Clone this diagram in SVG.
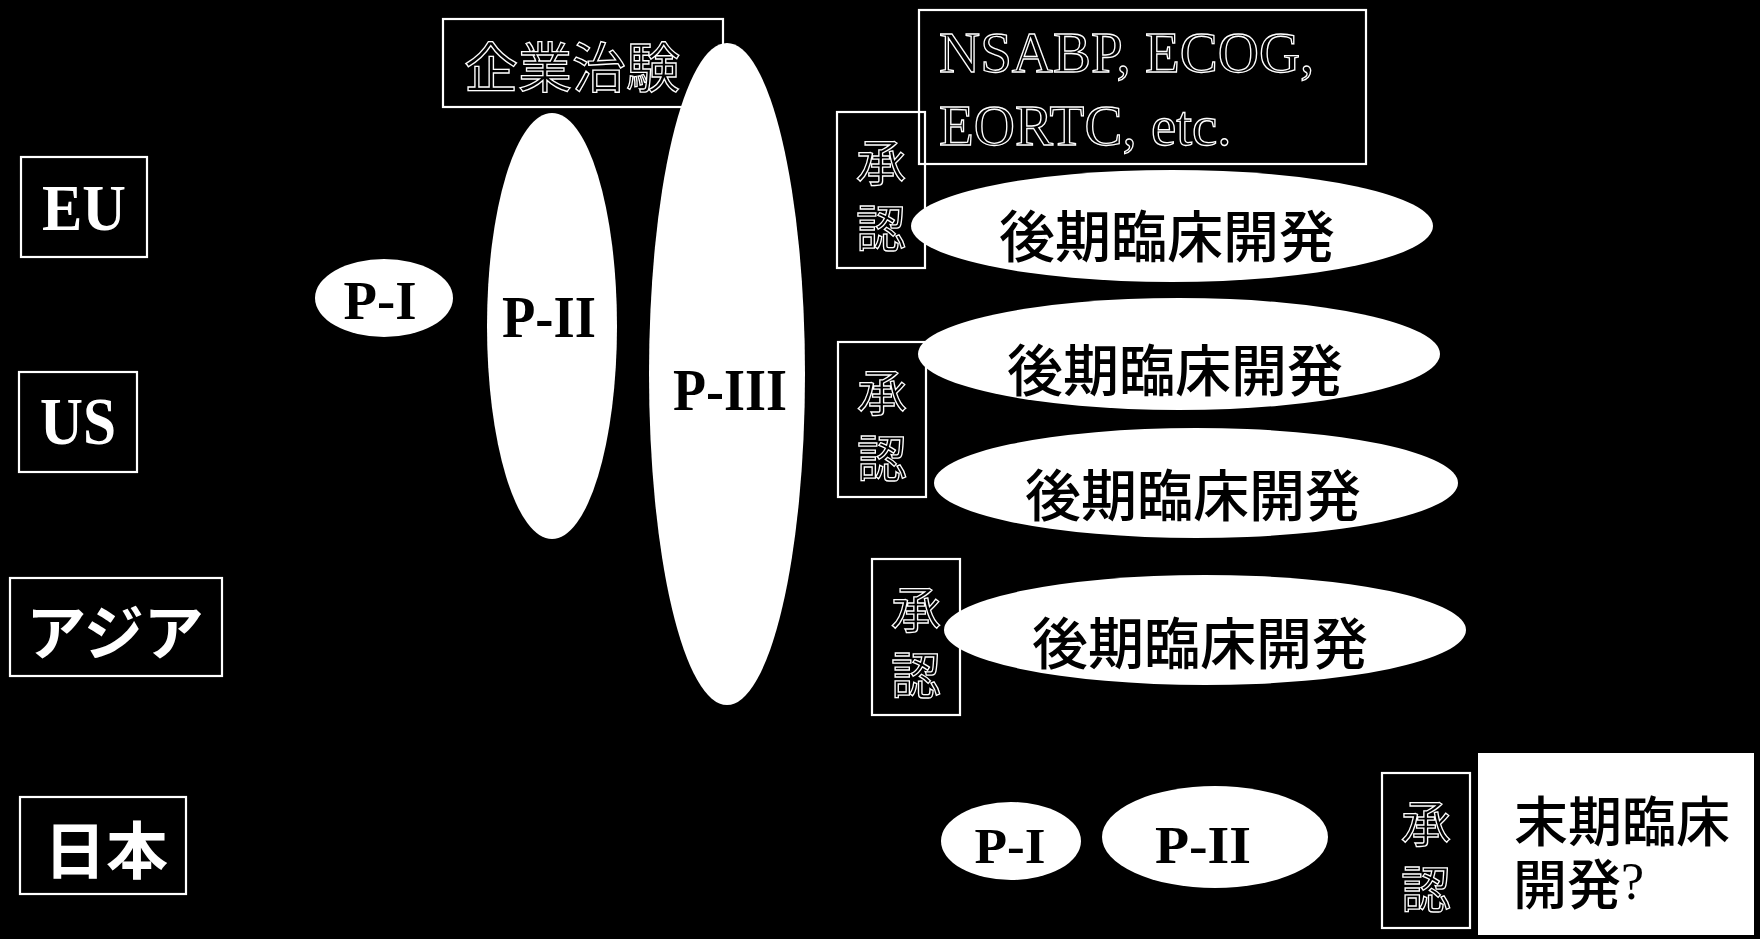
<svg xmlns="http://www.w3.org/2000/svg" width="1760" height="939" viewBox="0 0 1760 939">
<style>
.box{fill:none;stroke:#fff;stroke-width:2.2}
.ov{fill:#fff;stroke:none}
.lbl{font-family:"Liberation Serif",serif;font-weight:bold;fill:#fff;text-anchor:middle}
.ph{font-family:"Liberation Serif",serif;font-weight:bold;fill:#000;text-anchor:middle}
.jw{font-family:"Noto Sans CJK JP",sans-serif;font-weight:bold;fill:#fff;text-anchor:middle;dominant-baseline:central}
.jb{font-family:"Noto Sans CJK JP",sans-serif;font-weight:500;fill:#000;text-anchor:middle;dominant-baseline:central}
.hol{font-family:"Noto Sans CJK JP",sans-serif;fill:#000;stroke:#fff;stroke-width:1.3;text-anchor:middle;dominant-baseline:central}
.hols{font-family:"Liberation Serif",serif;fill:#000;stroke:#fff;stroke-width:1.3}
</style>
<rect x="0" y="0" width="1760" height="939" fill="#000"/>
<g id="connectors"/>
<g id="eu">
<rect class="box" x="21" y="157" width="126" height="100"/>
<text class="lbl" x="84" y="230" font-size="66" textLength="84" lengthAdjust="spacingAndGlyphs">EU</text>
</g>
<g id="us">
<rect class="box" x="19" y="372" width="118" height="100"/>
<text class="lbl" x="78" y="444" font-size="68" textLength="76" lengthAdjust="spacingAndGlyphs">US</text>
</g>
<g id="asia">
<rect class="box" x="10" y="578" width="212" height="98"/>
<text class="jw" x="115" y="628" font-size="60">アジア</text>
</g>
<g id="japan">
<rect class="box" x="20" y="797" width="166" height="97"/>
<text class="jw" x="106" y="847" font-size="62">日本</text>
</g>
<g id="p1">
<ellipse class="ov" cx="384" cy="298" rx="69" ry="39"/>
<text class="ph" x="380" y="319" font-size="54" textLength="73" lengthAdjust="spacingAndGlyphs">P-I</text>
</g>
<g id="p2">
<ellipse class="ov" cx="552" cy="326" rx="65" ry="213"/>
<text class="ph" x="549" y="337" font-size="60" textLength="94" lengthAdjust="spacingAndGlyphs">P-II</text>
</g>
<g id="p3">
<ellipse class="ov" cx="727" cy="374" rx="78" ry="331"/>
<text class="ph" x="730" y="410" font-size="59" textLength="114" lengthAdjust="spacingAndGlyphs">P-III</text>
</g>
<g id="kigyo">
<rect class="box" x="443" y="19" width="280" height="88"/>
<text class="hol" x="572" y="64" font-size="54">企業治験</text>
</g>
<g id="approval1">
<rect class="box" x="837" y="112" width="88" height="156"/>
<text class="hol" x="881" y="159" font-size="50">承</text>
<text class="hol" x="881" y="225" font-size="50">認</text>
</g>
<g id="approval2">
<rect class="box" x="838" y="342" width="88" height="155"/>
<text class="hol" x="882" y="389" font-size="50">承</text>
<text class="hol" x="882" y="455" font-size="50">認</text>
</g>
<g id="approval3">
<rect class="box" x="872" y="559" width="88" height="156"/>
<text class="hol" x="916" y="606" font-size="50">承</text>
<text class="hol" x="916" y="672" font-size="50">認</text>
</g>
<g id="groups">
<rect class="box" x="919" y="10" width="447" height="154"/>
<text class="hols" x="939" y="72" font-size="57">NSABP, ECOG,</text>
<text class="hols" x="939" y="145" font-size="57">EORTC, etc.</text>
</g>
<g id="late-eu">
<ellipse class="ov" cx="1172" cy="226" rx="261" ry="56"/>
<text class="jb" x="1167" y="232" font-size="56">後期臨床開発</text>
</g>
<g id="late-us1">
<ellipse class="ov" cx="1179" cy="354" rx="261" ry="56"/>
<text class="jb" x="1175" y="366" font-size="56">後期臨床開発</text>
</g>
<g id="late-us2">
<ellipse class="ov" cx="1196" cy="483" rx="262" ry="55"/>
<text class="jb" x="1193" y="491" font-size="56">後期臨床開発</text>
</g>
<g id="late-asia">
<ellipse class="ov" cx="1205" cy="630" rx="261" ry="55"/>
<text class="jb" x="1200" y="639" font-size="56">後期臨床開発</text>
</g>
<g id="jp-p1">
<ellipse class="ov" cx="1011" cy="841" rx="70" ry="39"/>
<text class="ph" x="1010" y="863" font-size="50" textLength="71" lengthAdjust="spacingAndGlyphs">P-I</text>
</g>
<g id="jp-p2">
<ellipse class="ov" cx="1215" cy="837" rx="113" ry="51"/>
<text class="ph" x="1203" y="863" font-size="52" textLength="96" lengthAdjust="spacingAndGlyphs">P-II</text>
</g>
<g id="approval4">
<rect class="box" x="1382" y="773" width="88" height="155"/>
<text class="hol" x="1426" y="820" font-size="50">承</text>
<text class="hol" x="1426" y="886" font-size="50">認</text>
</g>
<g id="final">
<rect x="1478" y="753" width="276" height="182" fill="#fff"/>
<text class="jb" x="1622" y="818" font-size="54">末期臨床</text>
<text class="jb" x="1513" y="881" font-size="54" style="text-anchor:start">開発<tspan font-family="Liberation Serif, serif" font-weight="normal" font-size="52">?</tspan></text>
</g>
</svg>
